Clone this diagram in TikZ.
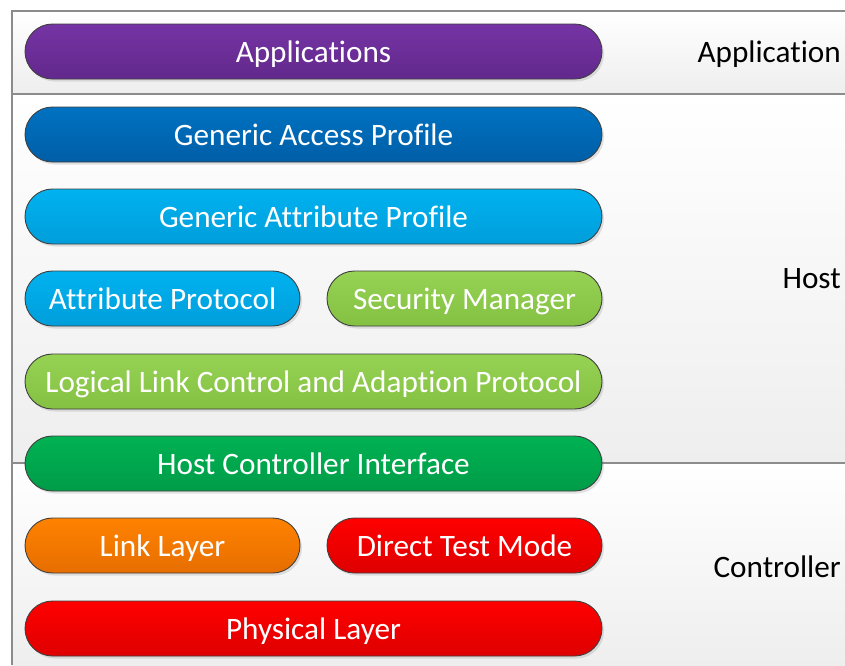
\documentclass[tikz,border=0pt]{standalone}
\usepackage{fontspec}
\setmainfont{Carlito}[Ligatures=NoCommon]
\usetikzlibrary{shapes.misc,shadows}

\definecolor{edgegray}{HTML}{8C8C8C}
\definecolor{pillborder}{HTML}{404040}
\definecolor{panelbot}{HTML}{EEEEEE}

\tikzset{
  x=1pt, y=-1pt,
  pill/.style={rounded rectangle, draw=pillborder, line width=0.9pt,
    minimum height=55pt, inner sep=0pt, text=white,
    text height=22pt, text depth=1pt,
    font=\fontsize{31.2}{37}\selectfont,
    drop shadow={opacity=0.22, shadow xshift=2pt, shadow yshift=-2.5pt}},
  wide/.style={pill, minimum width=577pt},
  half/.style={pill, minimum width=275pt},
  layerlabel/.style={anchor=base east, inner sep=0pt, text=black,
    font=\fontsize{31.2}{37}\selectfont},
  panel/.style={top color=white, bottom color=panelbot, draw=none},
  rule/.style={draw=edgegray, line width=1.3pt}
}

\begin{document}
\begin{tikzpicture}
\useasboundingbox (0,0) rectangle (845,665);

% background bands
\path[panel] (12,11) rectangle (845,94);
\path[panel] (12,94) rectangle (845,463);
\path[panel] (12,463) rectangle (845,665);
\draw[rule] (845,11) -- (12,11) -- (12,665);
\draw[rule] (12,94) -- (845,94);
\draw[rule] (12,463) -- (845,463);

% protocol stack
\node[wide, top color={rgb,255:red,117;green,52;blue,164}, bottom color={rgb,255:red,98;green,40;blue,140}]
  (app) at (313.5,51.5) {Applications};
\node[wide, top color={rgb,255:red,0;green,114;blue,194}, bottom color={rgb,255:red,0;green,94;blue,166}]
  (gap) at (313.5,134.5) {Generic Access Profile};
\node[wide, top color={rgb,255:red,0;green,178;blue,240}, bottom color={rgb,255:red,0;green,158;blue,218}]
  (gatt) at (313.5,216.5) {Generic Attribute Profile};
\node[half, top color={rgb,255:red,0;green,178;blue,240}, bottom color={rgb,255:red,0;green,158;blue,218}]
  (att) at (162.5,298.5) {Attribute Protocol};
\node[half, top color={rgb,255:red,150;green,210;blue,84}, bottom color={rgb,255:red,132;green,192;blue,66}]
  (sm) at (464.5,298.5) {Security Manager};
\node[wide, top color={rgb,255:red,150;green,210;blue,84}, bottom color={rgb,255:red,132;green,192;blue,66}]
  (l2cap) at (313.5,381.5) {Logical Link Control and Adaption Protocol};
\node[wide, top color={rgb,255:red,0;green,178;blue,82}, bottom color={rgb,255:red,0;green,156;blue,72}]
  (hci) at (313.5,463.5) {Host Controller Interface};
\node[half, top color={rgb,255:red,255;green,130;blue,0}, bottom color={rgb,255:red,230;green,110;blue,0}]
  (ll) at (162.5,545.5) {Link Layer};
\node[half, top color={rgb,255:red,255;green,0;blue,0}, bottom color={rgb,255:red,222;green,0;blue,0}]
  (dtm) at (464.5,545.5) {Direct Test Mode};
\node[wide, top color={rgb,255:red,255;green,0;blue,0}, bottom color={rgb,255:red,222;green,0;blue,0}]
  (phy) at (313.5,628.5) {Physical Layer};

% layer names
\node[layerlabel] (lapp) at (841,62) {Application};
\node[layerlabel] (lhost) at (841,288) {Host};
\node[layerlabel] (lctrl) at (841,577) {Controller};
\end{tikzpicture}
\end{document}
